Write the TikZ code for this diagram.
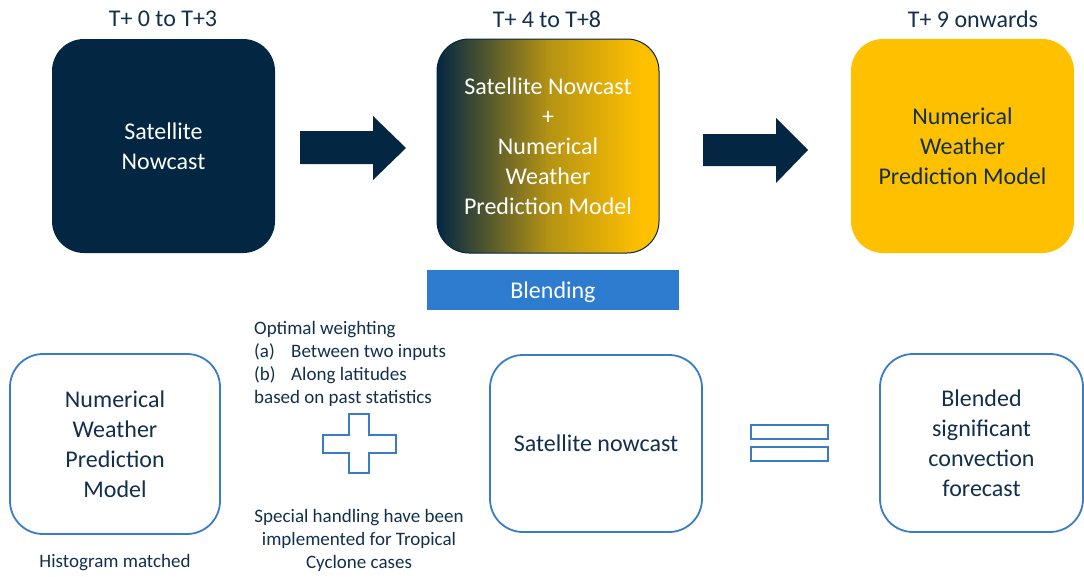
\documentclass[tikz,border=0pt]{standalone}
\usepackage{fontspec}
\setmainfont{Carlito}
\definecolor{navy}{HTML}{032742}
\definecolor{gold}{HTML}{FFC000}
\definecolor{txtnavy}{HTML}{12304D}
\definecolor{outblue}{HTML}{3A7DC4}
\definecolor{barblue}{HTML}{2E7CCF}
\pgfdeclarehorizontalshading{navygold}{100bp}{color(0bp)=(navy); color(25bp)=(navy); color(50bp)=(navy!30!gold); color(71bp)=(gold); color(100bp)=(gold)}
\begin{document}
\begin{tikzpicture}[x=1pt,y=-1pt,
  bigbox/.style={rounded corners=32pt, minimum width=223pt, minimum height=214pt, align=center, inner sep=0pt, font=\fontsize{24}{30}\selectfont},
  smallbox/.style={draw=outblue, line width=1.8pt, fill=white, rounded corners=33pt, align=center, inner sep=0pt, text=txtnavy, font=\fontsize{24}{30}\selectfont},
  toplabel/.style={text=txtnavy, inner sep=0pt, font=\fontsize{24}{29}\selectfont},
  smalltext/.style={text=txtnavy, inner sep=0pt, font=\fontsize{19}{23}\selectfont},
  blockarrow/.style={fill=navy},
  symbol/.style={draw=outblue, line width=1.8pt, fill=white}
]
\useasboundingbox (0,0) rectangle (1084,576);

% top row
\node[toplabel] (l1) at (163,19) {T+ 0 to T+3};
\node[toplabel] (l2) at (547,19) {T+ 4 to T+8};
\node[toplabel] (l3) at (973,19) {T+ 9 onwards};

\node[bigbox, fill=navy, text=white] (sat) at (163.5,146) {Satellite\\Nowcast};
\node[bigbox, shade, shading=navygold, draw=navy, line width=1pt, text=white, minimum width=222pt] (mix) at (548,146) {Satellite Nowcast\\+\\Numerical\\Weather\\Prediction Model};
\node[bigbox, fill=gold, text=txtnavy] (nwp) at (962.5,146) {Numerical\\Weather\\Prediction Model};

% block arrows
\fill[blockarrow] (300,131) -- (373,131) -- (373,116) -- (406,148) -- (373,180) -- (373,164) -- (300,164) -- cycle;
\fill[blockarrow] (703,134) -- (776,134) -- (776,118) -- (808,150) -- (776,183) -- (776,166) -- (703,166) -- cycle;

% blending bar
\node[fill=barblue, minimum width=252pt, minimum height=40pt, inner sep=0pt,
  label={[text=white, inner sep=0pt, yshift=-2.5pt, font=\fontsize{24}{29}\selectfont]center:Blending}] (bar) at (553,290) {};

% bottom row
\node[smallbox, minimum width=210pt, minimum height=180pt] (bnwp) at (115,444) {Numerical\\Weather\\Prediction\\Model};
\node[smallbox, minimum width=212pt, minimum height=177pt] (bsat) at (596,443.5) {Satellite nowcast};
\node[smallbox, minimum width=203pt, minimum height=178pt] (bfc) at (981.5,443) {Blended\\significant\\convection\\forecast};

\node[text=txtnavy, inner sep=0pt, font=\fontsize{19}{23}\selectfont] (hist) at (115,563) {Histogram matched};

\node[smalltext, anchor=north west, align=left] (opt) at (254,321) {Optimal weighting\\\makebox[37pt][l]{(a)}Between two inputs\\\makebox[37pt][l]{(b)}Along latitudes\\based on past statistics};
\node[smalltext, align=center] (spec) at (359,540) {Special handling have been\\implemented for Tropical\\Cyclone cases};

% plus sign
\draw[symbol] (349,414) -- (369,414) -- (369,435) -- (396,435) -- (396,453) -- (369,453) -- (369,473) -- (349,473) -- (349,453) -- (323,453) -- (323,435) -- (349,435) -- cycle;

% equals sign
\draw[symbol] (751,425) rectangle (828,439);
\draw[symbol] (751,447) rectangle (828,461);
\end{tikzpicture}
\end{document}
